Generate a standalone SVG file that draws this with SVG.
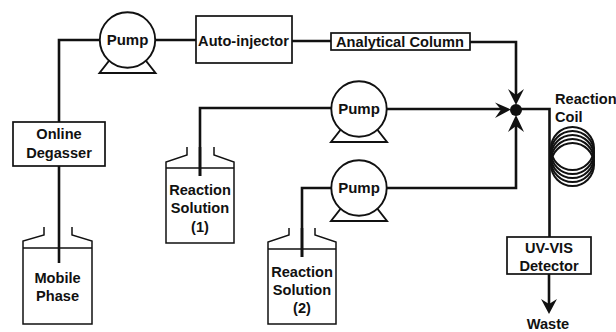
<svg xmlns="http://www.w3.org/2000/svg" width="616" height="332" viewBox="0 0 616 332">
<style>
text{font-family:"Liberation Sans",Arial,sans-serif;font-weight:700;font-size:14.6px;fill:#111;text-anchor:middle}
.pt{font-size:15px}
.box{fill:#fff;stroke:#111;stroke-width:1.7}
.p{fill:#fff;stroke:#111;stroke-width:1.9}
.b{fill:none;stroke:#111;stroke-width:1.5}
.l{fill:none;stroke:#111;stroke-width:2.6}
.c{fill:none;stroke:#111;stroke-width:2}
</style>
<defs>
<g id="pump"><path class="p" d="M-28 33H28L17 19H-17Z"/><circle class="p" cx="0" cy="0" r="27.7"/></g>
</defs>
<rect width="616" height="332" fill="#fff"/>
<g id="connectors">
<path class="l" d="M59 122V40H100"/>
<path class="l" d="M155 40H196"/>
<path class="l" d="M292 41H331"/>
<path class="l" d="M470 42H516V100"/>
<path class="l" d="M200 176V108H332"/>
<path class="l" d="M387 109H503"/>
<path class="l" d="M302 257V188H332"/>
<path class="l" d="M387 188H516V122"/>
<path class="l" d="M516 109H549.5V237"/>
<path class="l" d="M549 274V304"/>
<path class="l" d="M59 165V263"/>
<path fill="#111" d="M516 105L508 89L516 95L524 89Z"/>
<path fill="#111" d="M516 115L508 132L516 126L524 132Z"/>
<path fill="#111" d="M511 109.500L495 102.500L501 109.500L495 118Z"/>
<path fill="#111" d="M549 314L541 299L549 304L557 299Z"/>
<circle cx="516" cy="110" r="6" fill="#111"/>
</g>
<g id="pump1"><use href="#pump" x="127.500" y="40"/><text class="pt" x="127.500" y="45">Pump</text></g>
<g id="autoinjector"><rect class="box" x="196" y="16" width="96" height="47"/><text x="243.500" y="46">Auto-injector</text></g>
<g id="column"><rect class="box" x="331" y="33" width="139" height="17"/><text x="400" y="47" textLength="128">Analytical Column</text></g>
<g id="degasser"><rect class="box" x="13" y="122" width="92" height="44"/><text x="59" y="139">Online</text><text x="59" y="158">Degasser</text></g>
<g id="mobile-phase"><path class="b" d="M23 248V241L44 235V227M72 227V235L92 241V248M23 248H92V324H23Z"/><text x="57.500" y="283">Mobile</text><text x="57.500" y="301">Phase</text></g>
<g id="pump2"><use href="#pump" x="359" y="109"/><text class="pt" x="359" y="114">Pump</text></g>
<g id="solution1"><path class="b" d="M166 168V162L187 155V147M214 147V155L234 162V168M166 168H234V243H166Z"/><path class="l" d="M200 147V176"/><text x="200" y="195">Reaction</text><text x="200" y="213">Solution</text><text x="200" y="232">(1)</text></g>
<g id="pump3"><use href="#pump" x="359" y="188"/><text class="pt" x="359" y="193">Pump</text></g>
<g id="solution2"><path class="b" d="M268 249V242L289 235V228M315 228V235L336 242V249M268 249H336V324H268Z"/><path class="l" d="M302 228V257"/><text x="302" y="277">Reaction</text><text x="302" y="295">Solution</text><text x="302" y="313">(2)</text></g>
<g id="coil">
<circle class="c" cx="572.500" cy="148.500" r="21.500"/><circle class="c" cx="572.500" cy="152.500" r="21.500"/><circle class="c" cx="572.500" cy="156.500" r="21.500"/><circle class="c" cx="572.500" cy="160.500" r="21.500"/><circle class="c" cx="572.500" cy="164.500" r="21.500"/>
<text x="555" y="104" style="text-anchor:start">Reaction</text><text x="555" y="122" style="text-anchor:start">Coil</text></g>
<g id="detector"><rect class="box" x="507" y="237" width="84" height="37"/><text x="549" y="253">UV-VIS</text><text x="549" y="271">Detector</text></g>
<text x="548" y="329" id="waste">Waste</text>
</svg>
